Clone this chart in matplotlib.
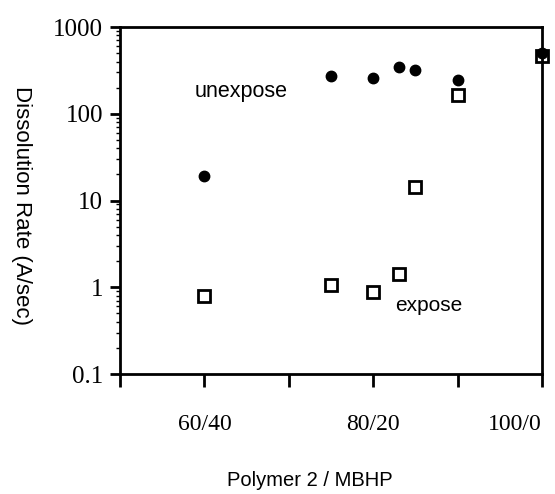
import matplotlib
matplotlib.use('Agg')
import matplotlib.pyplot as plt

# Polymer 2 content (%) and dissolution rates
polymer_unexposed = [60, 75, 80, 83, 85, 90, 100]
rate_unexposed = [19, 275, 260, 350, 320, 245, 500]

polymer_exposed = [60, 75, 80, 83, 85, 90, 100]
rate_exposed = [0.8, 1.06, 0.89, 1.42, 14.5, 165, 460]

x_ticks = [50, 60, 70, 80, 90, 100]
x_tick_labels = ['', '60/40', '', '80/20', '', '100/0']
y_ticks = [0.1, 1, 10, 100, 1000]
y_tick_labels = ['0.1', '1', '10', '100', '1000']

W, H = 555, 494
fig = plt.figure(figsize=(W / 100, H / 100), dpi=100)
ax = fig.add_axes([120 / W, 1 - 374 / H, (542 - 120) / W, (374 - 27) / H])

ax.plot(polymer_exposed, rate_exposed, linestyle='none', marker='s',
        markersize=8, markerfacecolor='white', markeredgecolor='black',
        markeredgewidth=2, clip_on=False)
ax.plot(polymer_unexposed, rate_unexposed, linestyle='none', marker='o',
        markersize=7.5, color='black', clip_on=False)

ax.set_yscale('log')
ax.set_xlim(50, 100)
ax.set_ylim(0.1, 1000)

serif = ['Liberation Serif', 'DejaVu Serif']
sans = ['Liberation Sans', 'DejaVu Sans']

ax.set_xticks(x_ticks)
ax.set_xticklabels(x_tick_labels, family=serif, fontsize=17)
ax.set_yticks(y_ticks)
ax.set_yticklabels(y_tick_labels, family=serif, fontsize=18)
ax.get_xticklabels()[-1].set_horizontalalignment('right')

ax.tick_params(axis='x', direction='out', length=9, width=2, pad=20)
ax.tick_params(axis='y', which='major', direction='out', length=7, width=2, pad=5)
ax.tick_params(axis='y', which='minor', direction='out', length=3, width=1)
ax.tick_params(top=False, right=False)

for s in ax.spines.values():
    s.set_linewidth(2)

fig.text(21 / W, 1 - 205 / H, 'Dissolution Rate (A/sec)', rotation=270,
         ha='center', va='center', family=sans, fontsize=16)
fig.text(310 / W, 1 - 480 / H, 'Polymer 2 / MBHP', ha='center', va='center',
         family=sans, fontsize=14.5)

fig.text(195 / W, 1 - 97 / H, 'unexpose', ha='left', va='baseline',
         family=sans, fontsize=15.5)
fig.text(395 / W, 1 - 311 / H, 'expose', ha='left', va='baseline',
         family=sans, fontsize=15)

fig.savefig('out.png', dpi=100)
